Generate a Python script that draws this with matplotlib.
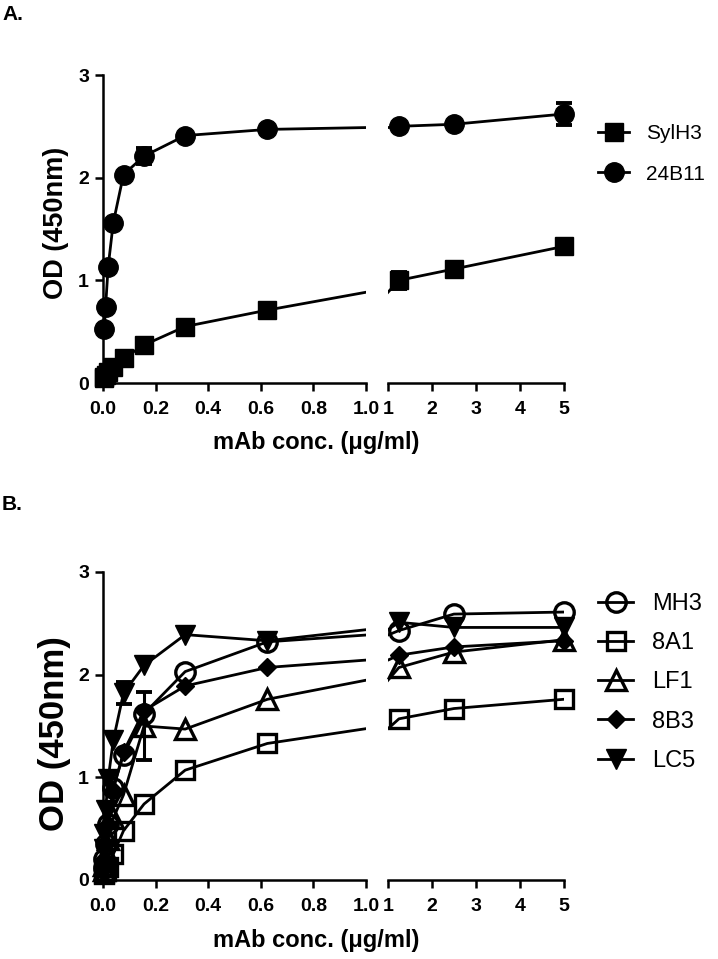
import numpy as np
import matplotlib
matplotlib.use("Agg")
import matplotlib.pyplot as plt
from matplotlib.lines import Line2D

plt.rcParams['font.family'] = ['Liberation Sans', 'DejaVu Sans']
plt.rcParams['font.weight'] = 'bold'

# antibody concentrations (ug/ml)
conc = np.array([0.0024, 0.0049, 0.0098, 0.0195, 0.039, 0.078, 0.156, 0.3125, 0.625, 1.25, 2.5, 5.0])

# panel A
sylh3 = np.array([0.05, 0.06, 0.08, 0.11, 0.16, 0.24, 0.37, 0.55, 0.71, 1.00, 1.11, 1.33])
sylh3_err = np.array([0, 0, 0, 0, 0, 0, 0.02, 0, 0, 0.08, 0, 0])
conc_24b11 = conc[1:]
b24b11 = np.array([0.53, 0.74, 1.13, 1.56, 2.03, 2.21, 2.41, 2.47, 2.50, 2.52, 2.62])
b24b11_err = np.array([0, 0, 0, 0, 0, 0.08, 0, 0, 0, 0, 0.11])

# panel B
mh3 = np.array([0.12, 0.20, 0.35, 0.55, 0.90, 1.22, 1.62, 2.03, 2.32, 2.43, 2.59, 2.61])
mh3_err = np.zeros(12)
a81 = np.array([0.06, 0.07, 0.09, 0.13, 0.25, 0.48, 0.74, 1.07, 1.33, 1.57, 1.67, 1.76])
a81_err = np.zeros(12)
lf1 = np.array([0.10, 0.15, 0.25, 0.40, 0.60, 0.83, 1.50, 1.47, 1.76, 2.07, 2.22, 2.34])
lf1_err = np.array([0, 0, 0, 0, 0, 0, 0.33, 0, 0, 0, 0, 0])
b83 = np.array([0.12, 0.20, 0.35, 0.55, 0.88, 1.25, 1.65, 1.89, 2.07, 2.19, 2.27, 2.33])
b83_err = np.zeros(12)
lc5 = np.array([0.30, 0.45, 0.68, 0.98, 1.36, 1.82, 2.09, 2.39, 2.33, 2.51, 2.46, 2.46])
lc5_err = np.array([0, 0, 0, 0, 0, 0.11, 0, 0, 0, 0, 0, 0])

W, H = 718, 959
fig = plt.figure(figsize=(W / 100, H / 100), dpi=100)


def px_axes(x0, y0, x1, y1):
    return fig.add_axes([x0 / W, 1 - y1 / H, (x1 - x0) / W, (y1 - y0) / H])


def style_axes(axl, axr):
    for ax in (axl, axr):
        ax.set_ylim(0, 3)
        for s in ('top', 'right'):
            ax.spines[s].set_visible(False)
        for s in ('left', 'bottom'):
            ax.spines[s].set_linewidth(1.8)
        ax.tick_params(direction='out', length=6, width=1.8, labelsize=14, pad=4)
        ax.tick_params(axis='x', pad=7)
        ax.patch.set_alpha(0)
    axl.set_xlim(0, 1.0)
    axl.set_xticks([0, 0.2, 0.4, 0.6, 0.8, 1.0])
    axl.set_xticklabels(['0.0', '0.2', '0.4', '0.6', '0.8', '1.0'])
    axl.set_yticks([0, 1, 2, 3])
    axr.set_xlim(1, 5)
    axr.set_xticks([1, 2, 3, 4, 5])
    axr.spines['left'].set_visible(False)
    axr.set_yticks([])


def plot_series(axl, axr, x, y, err, st):
    for ax, lo, hi in ((axl, 0, 1.0), (axr, 1.0, 5.0)):
        ax.plot(x, y, color='black', lw=2.0, zorder=2)
        m = (x >= lo) & (x <= hi)
        ax.plot(x[m], y[m], ls='none', color='black', clip_on=False, zorder=3, **st)
        e = m & (err > 0)
        if e.any():
            ax.errorbar(x[e], y[e], yerr=err[e], fmt='none', ecolor='black',
                        elinewidth=2.2, capsize=6, capthick=2.8, clip_on=False, zorder=3)


def legend(handles, labels, x, ytop, size, spacing):
    fig.legend(handles, labels, loc='upper left', bbox_to_anchor=(x / W, 1 - ytop / H),
               frameon=False, prop={'size': size, 'weight': 'normal'},
               handlelength=1.5, handletextpad=0.8, labelspacing=spacing,
               borderpad=0, borderaxespad=0, numpoints=1)


# ---- panel A
axl = px_axes(103, 75, 366, 383)
axr = px_axes(388, 75, 563.6, 383)
style_axes(axl, axr)
st_sq = dict(marker='s', ms=12.5)
st_ci = dict(marker='o', ms=14)
plot_series(axl, axr, conc, sylh3, sylh3_err, st_sq)
plot_series(axl, axr, conc_24b11, b24b11, b24b11_err, st_ci)
axl.set_ylabel('OD (450nm)', fontsize=19.5, fontweight='bold')
axl.yaxis.set_label_coords(-0.129, 0.52)
fig.text(316 / W, 1 - 443 / H, 'mAb conc. (μg/ml)', ha='center', va='center', fontsize=17, fontweight='bold')
fig.text(2 / W, 1 - 20 / H, 'A.', fontsize=15, fontweight='bold', va='baseline')
hA = [Line2D([], [], color='black', lw=2.0, **s) for s in (st_sq, st_ci)]
legend(hA, ['SylH3', '24B11'], 598, 124, 15, 1.04)

# ---- panel B
bxl = px_axes(103, 572, 366, 880)
bxr = px_axes(388, 572, 563.6, 880)
style_axes(bxl, bxr)
st_b = [
    dict(marker='o', ms=14, mfc='none', mew=2.4),
    dict(marker='s', ms=13, mfc='none', mew=2.4),
    dict(marker='^', ms=14, mfc='none', mew=2.4),
    dict(marker='D', ms=9),
    dict(marker='v', ms=14),
]
data_b = [(mh3, mh3_err), (a81, a81_err), (lf1, lf1_err), (b83, b83_err), (lc5, lc5_err)]
for (y, err), st in zip(data_b, st_b):
    plot_series(bxl, bxr, conc, y, err, st)
bxl.set_ylabel('OD (450nm)', fontsize=25, fontweight='bold')
bxl.yaxis.set_label_coords(-0.122, 0.477)
fig.text(316 / W, 1 - 940 / H, 'mAb conc. (μg/ml)', ha='center', va='center', fontsize=17, fontweight='bold')
fig.text(2 / W, 1 - 510 / H, 'B.', fontsize=15, fontweight='bold', va='baseline')
hB = [Line2D([], [], color='black', lw=2.0, **s) for s in st_b]
legend(hB, ['MH3', '8A1', 'LF1', '8B3', 'LC5'], 598, 593, 17, 0.73)

fig.savefig('out.png', dpi=100)
